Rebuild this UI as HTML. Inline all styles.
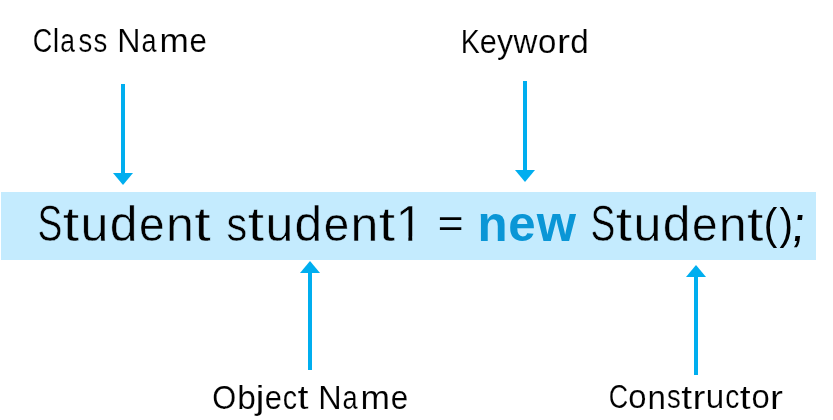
<!DOCTYPE html>
<html><head><meta charset="utf-8">
<style>
html,body{margin:0;padding:0;background:#fff;width:833px;height:420px;overflow:hidden}
svg{display:block;font-family:"Liberation Sans",sans-serif;will-change:transform}
</style></head><body>
<svg width="833" height="420" viewBox="0 0 833 420">
<defs><clipPath id="c7_7" clipPathUnits="userSpaceOnUse"><rect x="3.62" y="-36.16" width="14.46" height="31.70"/><rect x="12.73" y="-4.82" width="3.76" height="5.54"/></clipPath></defs>
<rect x="0" y="0" width="833" height="420" fill="#ffffff"/>
<rect x="1" y="192" width="815" height="68" fill="#C4EBFE"/>
<g fill="#00AEEF">
<rect x="121" y="84" width="4" height="90"/><polygon points="113,173 133,173 123,185"/><rect x="523" y="81" width="4" height="90"/><polygon points="515,170 535,170 525,182"/><polygon points="310,261 320,273 300,273"/><rect x="308" y="272" width="4" height="98"/><polygon points="696,265 706,277 686,277"/><rect x="694" y="276" width="4" height="99"/>
</g>
<g>
<text transform="matrix(0.8159 0 0.0000 1.0015 32.628 51.589)" font-size="33.120" fill="#000000" stroke="#ffffff" stroke-width="0.165">C</text>
<text transform="matrix(0.8824 0 0.0000 1.0131 52.781 51.600)" font-size="33.120" fill="#000000" stroke="#ffffff" stroke-width="0.158">l</text>
<text transform="matrix(0.7995 0 0.0000 0.9765 60.356 51.597)" font-size="33.120" fill="#000000" stroke="#ffffff" stroke-width="0.169">a</text>
<text transform="matrix(0.8325 0 0.0000 0.9809 78.508 51.595)" font-size="33.120" fill="#000000" stroke="#ffffff" stroke-width="0.165">s</text>
<text transform="matrix(0.8325 0 0.0000 0.9809 93.610 51.595)" font-size="33.120" fill="#000000" stroke="#ffffff" stroke-width="0.165">s</text>
<text transform="matrix(0.9743 0 0.0000 1.0025 117.353 51.600)" font-size="33.120" fill="#000000" stroke="#ffffff" stroke-width="0.152">N</text>
<text transform="matrix(0.8155 0 0.0000 0.9765 141.502 51.597)" font-size="33.120" fill="#000000" stroke="#ffffff" stroke-width="0.167">a</text>
<text transform="matrix(1.0631 0 0.0000 0.9785 159.567 51.600)" font-size="33.120" fill="#000000" stroke="#ffffff" stroke-width="0.147">m</text>
<text transform="matrix(0.9415 0 0.0000 0.9782 189.544 51.596)" font-size="33.120" fill="#000000" stroke="#ffffff" stroke-width="0.156">e</text>
<text transform="matrix(0.8618 0 0.0000 1.0025 460.658 52.800)" font-size="33.120" fill="#000000" stroke="#ffffff" stroke-width="0.161">K</text>
<text transform="matrix(0.9250 0 0.0000 0.9782 479.811 52.796)" font-size="33.120" fill="#000000" stroke="#ffffff" stroke-width="0.158">e</text>
<text transform="matrix(0.9712 0 0.0000 1.0181 497.115 53.490)" font-size="33.120" fill="#000000" stroke="#ffffff" stroke-width="0.151">y</text>
<text transform="matrix(0.9982 0 0.0000 0.9787 513.478 52.800)" font-size="33.120" fill="#000000" stroke="#ffffff" stroke-width="0.152">w</text>
<text transform="matrix(0.9986 0 0.0000 0.9782 538.077 52.796)" font-size="33.120" fill="#000000" stroke="#ffffff" stroke-width="0.152">o</text>
<text transform="matrix(1.1818 0 0.0000 0.9785 556.918 52.800)" font-size="33.120" fill="#000000" stroke="#ffffff" stroke-width="0.139">r</text>
<text transform="matrix(1.0037 0 0.0000 1.0124 570.155 52.785)" font-size="33.120" fill="#000000" stroke="#ffffff" stroke-width="0.149">d</text>
<text transform="matrix(0.9284 0 0.0000 1.0028 212.344 408.688)" font-size="33.120" fill="#000000" stroke="#ffffff" stroke-width="0.155">O</text>
<text transform="matrix(1.0111 0 0.0000 1.0124 237.298 408.685)" font-size="33.120" fill="#000000" stroke="#ffffff" stroke-width="0.148">b</text>
<text transform="matrix(1.2332 0 0.0000 1.0097 255.529 409.448)" font-size="33.120" fill="#000000" stroke="#ffffff" stroke-width="0.134">j</text>
<text transform="matrix(0.9309 0 0.0000 0.9782 264.817 408.696)" font-size="33.120" fill="#000000" stroke="#ffffff" stroke-width="0.157">e</text>
<text transform="matrix(0.8656 0 0.0000 0.9782 282.856 408.696)" font-size="33.120" fill="#000000" stroke="#ffffff" stroke-width="0.163">c</text>
<text transform="matrix(1.1975 0 0.0000 0.9878 297.472 408.757)" font-size="33.120" fill="#000000" stroke="#ffffff" stroke-width="0.137">t</text>
<text transform="matrix(0.9788 0 0.0000 1.0025 318.140 408.700)" font-size="33.120" fill="#000000" stroke="#ffffff" stroke-width="0.151">N</text>
<text transform="matrix(0.8193 0 0.0000 0.9765 342.402 408.697)" font-size="33.120" fill="#000000" stroke="#ffffff" stroke-width="0.167">a</text>
<text transform="matrix(1.0680 0 0.0000 0.9785 360.552 408.700)" font-size="33.120" fill="#000000" stroke="#ffffff" stroke-width="0.147">m</text>
<text transform="matrix(0.9459 0 0.0000 0.9782 390.669 408.696)" font-size="33.120" fill="#000000" stroke="#ffffff" stroke-width="0.156">e</text>
<text transform="matrix(0.8115 0 0.0000 1.0015 608.635 408.489)" font-size="33.120" fill="#000000" stroke="#ffffff" stroke-width="0.165">C</text>
<text transform="matrix(0.9910 0 0.0000 0.9782 628.321 408.496)" font-size="33.120" fill="#000000" stroke="#ffffff" stroke-width="0.152">o</text>
<text transform="matrix(1.0020 0 0.0000 0.9785 647.395 408.500)" font-size="33.120" fill="#000000" stroke="#ffffff" stroke-width="0.151">n</text>
<text transform="matrix(0.8280 0 0.0000 0.9809 667.088 408.495)" font-size="33.120" fill="#000000" stroke="#ffffff" stroke-width="0.166">s</text>
<text transform="matrix(1.1809 0 0.0000 0.9878 681.126 408.557)" font-size="33.120" fill="#000000" stroke="#ffffff" stroke-width="0.138">t</text>
<text transform="matrix(1.1728 0 0.0000 0.9785 692.605 408.500)" font-size="33.120" fill="#000000" stroke="#ffffff" stroke-width="0.139">r</text>
<text transform="matrix(1.0031 0 0.0000 0.9785 705.724 408.496)" font-size="33.120" fill="#000000" stroke="#ffffff" stroke-width="0.151">u</text>
<text transform="matrix(0.8536 0 0.0000 0.9782 725.256 408.496)" font-size="33.120" fill="#000000" stroke="#ffffff" stroke-width="0.164">c</text>
<text transform="matrix(1.1809 0 0.0000 0.9878 739.670 408.557)" font-size="33.120" fill="#000000" stroke="#ffffff" stroke-width="0.138">t</text>
<text transform="matrix(0.9910 0 0.0000 0.9782 751.411 408.496)" font-size="33.120" fill="#000000" stroke="#ffffff" stroke-width="0.152">o</text>
<text transform="matrix(1.1728 0 0.0000 0.9785 770.109 408.500)" font-size="33.120" fill="#000000" stroke="#ffffff" stroke-width="0.139">r</text>
<text transform="matrix(0.7537 0 0.0000 1.0015 37.610 240.683)" font-size="49.370" fill="#000000" stroke="#C4EBFE" stroke-width="0.570">S</text>
<text transform="matrix(1.1986 0 0.0000 0.9878 62.791 240.785)" font-size="49.370" fill="#000000" stroke="#C4EBFE" stroke-width="0.457">t</text>
<text transform="matrix(1.0181 0 0.0000 0.9785 80.515 240.694)" font-size="49.370" fill="#000000" stroke="#C4EBFE" stroke-width="0.501">u</text>
<text transform="matrix(1.0110 0 0.0000 1.0124 109.784 240.678)" font-size="49.370" fill="#000000" stroke="#C4EBFE" stroke-width="0.494">d</text>
<text transform="matrix(0.9317 0 0.0000 0.9782 139.090 240.694)" font-size="49.370" fill="#000000" stroke="#C4EBFE" stroke-width="0.524">e</text>
<text transform="matrix(1.0170 0 0.0000 0.9785 165.904 240.700)" font-size="49.370" fill="#000000" stroke="#C4EBFE" stroke-width="0.501">n</text>
<text transform="matrix(1.1986 0 0.0000 0.9878 194.192 240.785)" font-size="49.370" fill="#000000" stroke="#C4EBFE" stroke-width="0.457">t</text>
<text transform="matrix(0.8382 0 0.0000 0.9809 226.548 240.693)" font-size="49.370" fill="#000000" stroke="#C4EBFE" stroke-width="0.550">s</text>
<text transform="matrix(1.1955 0 0.0000 0.9878 247.717 240.785)" font-size="49.370" fill="#000000" stroke="#C4EBFE" stroke-width="0.458">t</text>
<text transform="matrix(1.0154 0 0.0000 0.9785 265.394 240.694)" font-size="49.370" fill="#000000" stroke="#C4EBFE" stroke-width="0.502">u</text>
<text transform="matrix(1.0083 0 0.0000 1.0124 294.586 240.678)" font-size="49.370" fill="#000000" stroke="#C4EBFE" stroke-width="0.495">d</text>
<text transform="matrix(0.9293 0 0.0000 0.9782 323.814 240.694)" font-size="49.370" fill="#000000" stroke="#C4EBFE" stroke-width="0.524">e</text>
<text transform="matrix(1.0143 0 0.0000 0.9785 350.558 240.700)" font-size="49.370" fill="#000000" stroke="#C4EBFE" stroke-width="0.502">n</text>
<text transform="matrix(1.1955 0 0.0000 0.9878 378.771 240.785)" font-size="49.370" fill="#000000" stroke="#C4EBFE" stroke-width="0.458">t</text>
<text transform="matrix(1.0174 0 0.0000 1.0025 395.430 240.700)" font-size="49.370" fill="#000000" stroke="#C4EBFE" stroke-width="0.495" clip-path="url(#c7_7)">1</text>
<text transform="matrix(0.8922 0 0.0000 0.7993 437.649 236.871)" font-size="49.370" fill="#000000">=</text>
<text transform="matrix(0.9982 0 0.0000 0.9977 477.551 240.700)" font-size="49.370" font-weight="bold" fill="#0A96D6">n</text>
<text transform="matrix(0.9963 0 0.0000 0.9980 508.328 240.685)" font-size="49.370" font-weight="bold" fill="#0A96D6">e</text>
<text transform="matrix(1.0223 0 0.0000 0.9983 536.645 240.700)" font-size="49.370" font-weight="bold" fill="#0A96D6">w</text>
<text transform="matrix(0.7532 0 0.0000 1.0015 590.611 240.683)" font-size="49.370" fill="#000000" stroke="#C4EBFE" stroke-width="0.570">S</text>
<text transform="matrix(1.1978 0 0.0000 0.9878 615.776 240.785)" font-size="49.370" fill="#000000" stroke="#C4EBFE" stroke-width="0.458">t</text>
<text transform="matrix(1.0174 0 0.0000 0.9785 633.488 240.694)" font-size="49.370" fill="#000000" stroke="#C4EBFE" stroke-width="0.501">u</text>
<text transform="matrix(1.0104 0 0.0000 1.0124 662.738 240.678)" font-size="49.370" fill="#000000" stroke="#C4EBFE" stroke-width="0.494">d</text>
<text transform="matrix(0.9311 0 0.0000 0.9782 692.025 240.694)" font-size="49.370" fill="#000000" stroke="#C4EBFE" stroke-width="0.524">e</text>
<text transform="matrix(1.0163 0 0.0000 0.9785 718.821 240.700)" font-size="49.370" fill="#000000" stroke="#C4EBFE" stroke-width="0.501">n</text>
<text transform="matrix(1.1978 0 0.0000 0.9878 747.091 240.785)" font-size="49.370" fill="#000000" stroke="#C4EBFE" stroke-width="0.458">t</text>
<text transform="matrix(0.8231 0 0.0000 0.9044 763.637 239.002)" font-size="49.370" fill="#000000">(</text>
<text transform="matrix(0.8231 0 0.0000 0.9044 779.480 239.002)" font-size="49.370" fill="#000000">)</text>
<text transform="matrix(0.9978 0 -0.1197 0.9978 790.264 240.547)" font-size="49.370" fill="#000000">;</text>
</g>
</svg>
</body></html>
